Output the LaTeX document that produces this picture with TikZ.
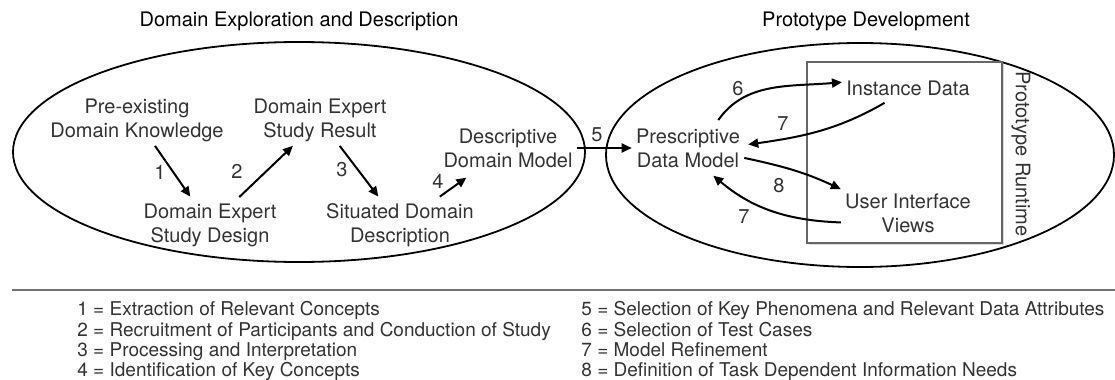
\documentclass[tikz,border=0pt]{standalone}
\usepackage{fontspec}
\setmainfont{TeX Gyre Heros}
\usetikzlibrary{arrows.meta,shadows}

\begin{document}
\begin{tikzpicture}[x=0.5pt,y=0.5pt,
    lbl/.style={align=center,inner sep=2pt,text=black!80,font=\fontsize{10}{12}\selectfont},
    num/.style={inner sep=0pt,text=black!80,font=\fontsize{10}{12}\selectfont},
    arr/.style={line width=1pt,-{Triangle[length=5pt,width=4.5pt]}},
    leg/.style={anchor=base west,inner sep=0pt,text=black!80,font=\fontsize{9.5}{10}\selectfont}]
  \useasboundingbox (0,0) rectangle (1115,-380);
  \node[font=\fontsize{10}{12}\selectfont] (t1) at (299,-21) {Domain Exploration and Description};
  \node[font=\fontsize{10}{12}\selectfont] (t2) at (866,-21) {Prototype Development};
  \draw[line width=0.9pt] (299,-152) ellipse [x radius=286,y radius=110];
  \draw[line width=0.9pt] (860,-155) ellipse [x radius=254,y radius=112];
  \draw[black!60,line width=0.6pt,fill=white,
    drop shadow={shadow xshift=1pt,shadow yshift=-1pt,opacity=0.3}] (807,-62) rectangle (1002,-243);
  \node[num,rotate=-90] (rt) at (1021,-154) {Prototype Runtime};

  \node[lbl] (K) at (137,-120) {Pre-existing\\Domain Knowledge};
  \node[lbl] (D) at (210,-225) {Domain Expert\\Study Design};
  \node[lbl] (R) at (320,-120) {Domain Expert\\Study Result};
  \node[lbl] (S) at (400,-225) {Situated Domain\\Description};
  \node[lbl] (M) at (508,-148) {Descriptive\\Domain Model};
  \node[lbl] (P) at (688,-148) {Prescriptive\\Data Model};
  \node[lbl] (I) at (908,-88) {Instance Data};
  \node[lbl] (U) at (908,-213) {User Interface\\Views};

  \draw[arr,shorten >=1.5pt] (K) -- (D);
  \draw[arr,shorten <=1.5pt] (D) -- (R);
  \draw[arr,shorten >=1.5pt] (R) -- (S);
  \draw[arr,shorten <=2pt,shorten >=5pt] (S) -- (M);
  \draw[arr] (M) -- (P);
  \draw[arr,shorten <=2.5pt] (P.41) to[out=55,in=185] (I.175);
  \draw[arr,shorten <=3pt,shorten >=2pt] (I.213) to[out=210,in=8] (P.3);
  \draw[arr] (P.-10) to[out=-12,in=155] (U.north west);
  \draw[arr,shorten >=3pt] (U.188) to[out=178,in=-40] (P.-49);

  \node[num] (n1) at (160,-172) {1};
  \node[num] (n2) at (237,-171) {2};
  \node[num] (n3) at (342,-170) {3};
  \node[num] (n4) at (438,-181) {4};
  \node[num] (n5) at (597,-135) {5};
  \node[num] (n6) at (738,-89) {6};
  \node[num] (n7a) at (783,-124) {7};
  \node[num] (n8) at (779,-186) {8};
  \node[num] (n7b) at (744,-217) {7};

  \draw[black!55,line width=0.8pt] (12,-290) -- (1115,-290);
  \node[leg] (l1) at (77,-315) {1 = Extraction of Relevant Concepts};
  \node[leg] (l2) at (77,-336) {2 = Recruitment of Participants and Conduction of Study};
  \node[leg] (l3) at (77,-356) {3 = Processing and Interpretation};
  \node[leg] (l4) at (77,-376) {4 = Identification of Key Concepts};
  \node[leg] (l5) at (581,-315) {5 = Selection of Key Phenomena and Relevant Data Attributes};
  \node[leg] (l6) at (581,-336) {6 = Selection of Test Cases};
  \node[leg] (l7) at (581,-356) {7 = Model Refinement};
  \node[leg] (l8) at (581,-376) {8 = Definition of Task Dependent Information Needs};
\end{tikzpicture}
\end{document}
